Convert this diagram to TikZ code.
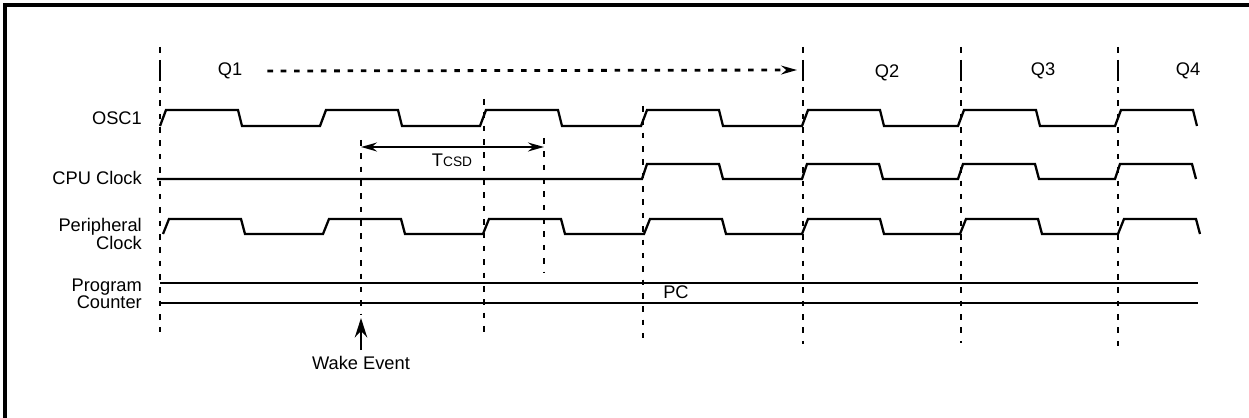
\documentclass[tikz,border=0pt]{standalone}
\usepackage{fontspec}
\setmainfont{Liberation Sans}
\usetikzlibrary{arrows.meta}
\tikzset{
	sig label/.style={anchor=east,align=right,font=\fontsize{10.4}{10}\selectfont},
	q label/.style={font=\fontsize{10.4}{12}\selectfont},
	wave/.style={-,line width=1.3pt,line join=miter},
	mark line/.style={-,line width=1.6pt,dash pattern=on 3.2pt off 4.4pt},
	bar/.style={-,line width=1.6pt}
}

\begin{document}
\begin{tikzpicture}[->,>={Stealth[length=9pt,width=5pt]},x=0.02cm,y=-0.02cm]
      \useasboundingbox (0,0) rectangle (1249,418);
      \draw[-,line width=2.2pt] (5,418) -- (5,5) -- (1249,5);

      \node[sig label] (1) at (148,118) {OSC1};
      \node[sig label] (2) at (148,178) {CPU Clock};
      \node[sig label] (3) at (148,234) {Peripheral\\Clock};
      \node[sig label] (4) at (148,294) {Program\\Counter};

      \node[q label] (5) at (230,71) {Q1};
      \node[q label] (6) at (887,73) {Q2};
      \node[q label] (7) at (1043,71) {Q3};
      \node[q label] (8) at (1188,71) {Q4};

      \foreach \x/\a/\b in {160/47/332,803/47/344,961/47/343,1118/47/348,361/140/315,484/99/338,643/106/338,544/138/273}
        \draw[mark line] (\x,\a) -- (\x,\b);
      \foreach \x in {160,803,961,1118}
        \draw[bar] (\x,60) -- (\x,81);

      \coordinate (9) at (797,70);
      \draw[mark line,->] ([xshift=0.38cm]5.east) -- (9);

      \draw[wave] (160,126) \foreach \x in {160,320,480,641,802,958,1115} {
        -- (\x,126) -- (\x+6,110) -- (\x+78,110) -- (\x+82,126)};
      \draw[wave] (157,179) \foreach \x in {642,802,958,1115} {
        -- (\x,179) -- (\x+5,164) -- (\x+77,164) -- (\x+81,179)};
      \draw[wave] (163,234) \foreach \x in {163,323,483,644,802,960,1118} {
        -- (\x,234) -- (\x+6,219) -- (\x+78,219) -- (\x+82,234)};

      \draw[bar] (160,283) -- (1198,283);
      \draw[bar] (160,303) -- (1198,303);
      \node[q label] (10) at (676,292) {PC};

      \coordinate (11) at (361,147);
      \coordinate (12) at (544,147);
      \draw[<->,line width=1.5pt] (11) -- (12);
      \node[q label] (13) at (452,160) {T{\fontsize{7.8}{8}\selectfont CSD}};

      \node[q label] (14) at (361,363) {Wake Event};
      \coordinate (15) at (361,318);
      \draw[line width=1.6pt,>={Stealth[length=11pt,width=7pt]}] (14.north) -- (15);
    \end{tikzpicture}
\end{document}
